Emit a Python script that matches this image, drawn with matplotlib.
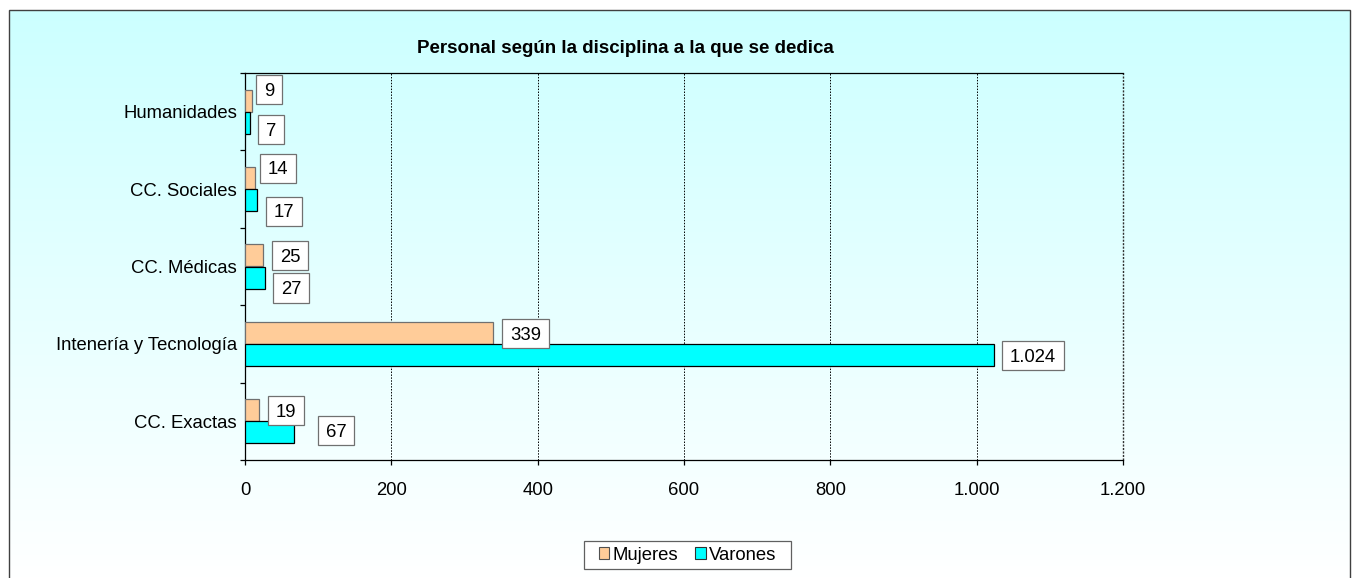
import numpy as np
import matplotlib
matplotlib.use("Agg")
import matplotlib.pyplot as plt
from matplotlib.path import Path
from matplotlib.patches import Rectangle, Patch
from matplotlib.ticker import FuncFormatter

# ---------------- data ----------------
categories = ["Humanidades", "CC. Sociales", "CC. Médicas",
              "Intenería y Tecnología", "CC. Exactas"]
mujeres = [9, 14, 25, 339, 19]
varones = [7, 17, 27, 1024, 67]
series_names = ["Mujeres", "Varones"]
title = "Personal según la disciplina a la que se dedica"
x_ticks = [0, 200, 400, 600, 800, 1000, 1200]

# label offsets (pixels): (gap from bar end to box left, vertical shift down)
off_m = [(4.5, -11.5), (5, -10), (8.7, 0), (9, 0.5), (9, 0)]
off_v = [(8, 7), (8.6, 11), (8.2, 10.5), (8, 0.5), (24, -2)]

W, H = 1352, 578
DPI = 100
FS = 13.3  # pt
FSPX = FS * DPI / 72.0
PT = 72.0 / DPI  # points per pixel

plt.rcParams['font.family'] = ['Liberation Sans', 'DejaVu Sans']

fig = plt.figure(figsize=(W / DPI, H / DPI), dpi=DPI)
fig.patch.set_facecolor("white")

# background gradient inside the chart frame
fx0, fx1 = 8.5 / W, 1349.5 / W
fy_top = 1 - 9.5 / H
bg = fig.add_axes([fx0, 0, fx1 - fx0, fy_top], zorder=-5)
top = np.array([204, 255, 255]) / 255.0
bot = np.array([255, 255, 255]) / 255.0
t = np.linspace(0, 1, 256)[:, None]
grad = (top[None, :] * (1 - t) + bot[None, :] * t)[:, None, :]
bg.imshow(grad, aspect="auto", extent=[0, 1, 0, 1], origin="upper")
bg.set_axis_off()
fig.patches.append(Rectangle((fx0, -0.01), fx1 - fx0, fy_top + 0.01,
                             transform=fig.transFigure, fill=False,
                             edgecolor="#404040", linewidth=1.0, zorder=10))

# main axes
L, R, T, B = 245, 1123, 73, 460
ax = fig.add_axes([L / W, 1 - B / H, (R - L) / W, (B - T) / H])
ax.set_facecolor("none")

n = len(categories)
y = np.arange(n)
h = 22.0 / ((B - T) / n)

ax.barh(y - h / 2, mujeres, height=h, color="#FFCC99", edgecolor="#707070",
        linewidth=0.9, label=series_names[0], zorder=3)
ax.barh(y + h / 2, varones, height=h, color="#00FFFF", edgecolor="black",
        linewidth=0.9, label=series_names[1], zorder=3)

ax.set_xlim(x_ticks[0], x_ticks[-1])
ax.set_ylim(n - 0.5, -0.5)
ax.set_xticks(x_ticks)
ax.xaxis.set_major_formatter(FuncFormatter(lambda v, p: f"{int(v):,}".replace(",", ".")))
ax.tick_params(axis="x", direction="out", length=5 * PT, width=0.9,
               labelsize=FS, pad=17 * PT, colors="black")

ax.set_yticks(y)
ax.set_yticklabels(categories)
ax.set_yticks(np.arange(n + 1) - 0.5, minor=True)
ax.tick_params(axis="y", which="major", length=0, labelsize=FS, pad=8 * PT)
ax.tick_params(axis="y", which="minor", direction="out", length=5 * PT, width=0.9)

ax.grid(axis="x", color="black", linestyle=(0, (1.5, 1.5)), linewidth=0.7, zorder=1)
ax.set_axisbelow(True)
for s in ["left", "bottom", "top"]:
    ax.spines[s].set_color("black")
    ax.spines[s].set_linewidth(0.9)
ax.spines["right"].set_visible(False)
ax.axvline(x_ticks[-1], color="#303030", linestyle=(0, (1.5, 1)), linewidth=1.0,
           zorder=2, clip_on=False)


def make_box(padx, pad_bottom, pad_top):
    def box(x0, y0, width, height, mutation_size):
        px = padx * mutation_size
        pb = pad_bottom * mutation_size
        pt_ = pad_top * mutation_size
        xa = x0 - px
        ya = y0 - pb
        xb = x0 + width + px
        yb = y0 + height + pt_
        return Path([(xa, ya), (xb, ya), (xb, yb), (xa, yb), (xa, ya)],
                    closed=True)
    return box


PADX, PADB, PADT = 0.42, 0.23, 0.43
box = make_box(PADX, PADB, PADT)
shift_px = (PADT - PADB) / 2 * FSPX  # box centre sits this much above text centre


def fmt(v):
    return f"{v:,}".replace(",", ".")


for vals, offs, sign in ((mujeres, off_m, -1), (varones, off_v, 1)):
    for i, v in enumerate(vals):
        dx, dy = offs[i]
        ax.annotate(fmt(v), xy=(v, y[i] + sign * h / 2), xycoords="data",
                    xytext=((dx + PADX * FSPX) * PT, (-dy - shift_px) * PT),
                    textcoords="offset points", ha="left", va="center",
                    fontsize=FS, color="black", zorder=5,
                    bbox=dict(boxstyle=box, facecolor="white",
                              edgecolor="#707070", linewidth=0.9))

# title
fig.text(625 / W, 1 - 48.5 / H, title, ha="center", va="center",
         fontsize=13.5, fontweight="bold", color="black")

# legend
handles = [Patch(facecolor="#FFCC99", edgecolor="#505050", linewidth=0.8),
           Patch(facecolor="#00FFFF", edgecolor="#303030", linewidth=0.8)]
leg = fig.legend(handles, series_names, loc="center",
                 bbox_to_anchor=(687.5 / W, 1 - 555 / H), ncol=2,
                 fontsize=FS, frameon=True, fancybox=False,
                 handlelength=0.55, handleheight=0.55, handletextpad=0.17,
                 columnspacing=0.95, borderpad=0.3, borderaxespad=0)
fr = leg.get_frame()
fr.set_facecolor("white")
fr.set_edgecolor("#606060")
fr.set_linewidth(0.9)
fr.set_alpha(1)
fr.set_boxstyle(make_box(0.5, 0.0, 0.0))

fig.savefig("out.png", dpi=DPI)
